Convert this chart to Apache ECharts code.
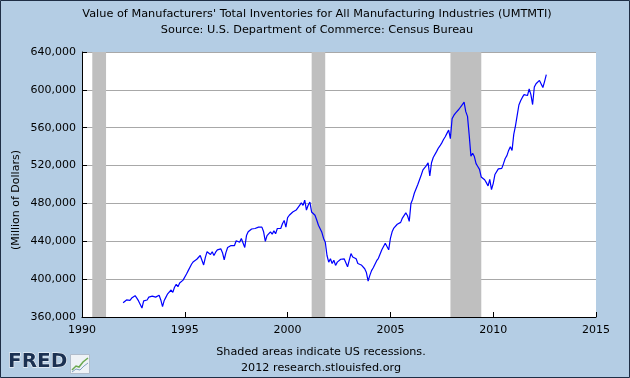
<!DOCTYPE html>
<html>
<head>
<meta charset="utf-8">
<script src="https://cdn.jsdelivr.net/npm/echarts@6/dist/echarts.min.js"></script>
<style>
html,body{margin:0;padding:0;background:#b4cde4;}
#chart{width:630px;height:378px;}
</style>
</head>
<body>
<div id="chart"></div>
<script>
// Monthly observations, first one is January 1992 (Million of Dollars)
const firstYear = 1992;
const inventories = [
  375000,376500,378000,379500,377500,380000,378000,382500,380000,377000,375000,369500,
  377000,376000,378000,381000,380000,382000,383000,381000,382500,383000,378000,371000,
  377500,381000,384500,386000,388500,386000,391500,394500,392000,396000,394000,399000,
  398000,405500,409000,408000,416000,418500,417000,421000,423000,425000,423500,415000,
  423000,429000,428000,426000,429000,425000,428500,431000,429000,432000,428000,420500,
  428000,433500,432000,435500,437000,435500,440500,441500,439000,443000,441500,433500,
  446000,450000,449000,453000,451000,453500,452000,455000,454000,455000,450000,440000,
  446000,448000,450000,447500,451000,448000,453500,455000,453500,458500,462000,455000,
  465000,467500,466000,471000,472000,473000,471000,478000,480500,478000,483500,473000,
  478000,481500,471000,469000,467500,462500,457000,455000,449500,443000,439000,425000,
  418000,421500,416500,420000,414500,418000,420000,421000,420000,421500,423500,413000,
  420000,427000,423500,425000,421500,416500,414500,415000,413000,411000,407000,398000,
  404000,409000,412000,414000,419500,422000,424000,431000,433000,438000,439000,431000,
  443000,450000,454000,456000,458000,456500,460000,464500,464500,470000,467000,461000,
  480000,484500,491000,495500,500000,502000,510000,515500,517500,520000,523000,509000,
  523000,528500,530000,535000,538500,541000,544000,547500,550500,554000,557500,548500,
  569500,573000,575500,576500,579500,580000,584500,587000,577000,572000,552000,530000,
  533000,529500,522000,519000,516000,508000,506500,505000,502000,498500,505500,494500,
  501000,510500,512500,516500,518000,517000,522000,527500,530500,536000,540000,536000,
  553000,562000,573000,584000,588500,592000,595000,596000,594000,601000,595000,584500,
  603000,606500,607000,610000,611000,602500,609000,616000
];
// Recession periods (decimal years: start, end)
const recessions = [[1990.5, 1991.17], [2001.17, 2001.83], [2007.92, 2009.42]];
const xTicks = [1990, 1995, 2000, 2005, 2010, 2015];
const yTicks = [360000, 400000, 440000, 480000, 520000, 560000, 600000, 640000];
const titleLines = [
  "Value of Manufacturers' Total Inventories for All Manufacturing Industries (UMTMTI)",
  "Source: U.S. Department of Commerce: Census Bureau"
];
const yName = "(Million of Dollars)";
const footLines = ["Shaded areas indicate US recessions.", "2012 research.stlouisfed.org"];

const seriesData = inventories.map((v, i) => [firstYear + i / 12, v]);
const FONT = 'DejaVu Sans';

const chart = echarts.init(document.getElementById('chart'), null, {renderer: 'canvas'});
chart.setOption({
  animation: false,
  backgroundColor: '#b4cde4',
  grid: {left: 82, top: 52, width: 514, height: 265, show: true, backgroundColor: '#ffffff', borderWidth: 0},
  xAxis: {
    type: 'value', min: xTicks[0], max: xTicks[xTicks.length - 1], interval: 5,
    axisLine: {show: true, lineStyle: {color: '#000', width: 1}},
    axisTick: {show: true, inside: true, length: 5, lineStyle: {color: '#000'}},
    axisLabel: {color: '#000', fontFamily: FONT, fontSize: 11, margin: 8, formatter: v => String(v)},
    splitLine: {show: false}
  },
  yAxis: {
    type: 'value', min: yTicks[0], max: yTicks[yTicks.length - 1], interval: 40000,
    axisLine: {show: true, lineStyle: {color: '#000', width: 1}},
    axisTick: {show: true, inside: true, length: 5, lineStyle: {color: '#000'}},
    axisLabel: {color: '#000', fontFamily: FONT, fontSize: 11, margin: 6,
      formatter: v => v.toLocaleString('en-US')},
    splitLine: {show: true, lineStyle: {color: '#a8a8a8', width: 1}}
  },
  series: [{
    type: 'line',
    data: seriesData,
    showSymbol: false,
    symbol: 'none',
    lineStyle: {color: '#0000ff', width: 1.2},
    z: 5,
    markArea: {
      silent: true,
      itemStyle: {color: '#bfbfbf'},
      data: recessions.map(r => [{xAxis: r[0]}, {xAxis: r[1]}])
    }
  }],
  graphic: [
    {type: 'text', x: 317, y: 14, style: {text: titleLines[0], fontFamily: FONT, fontSize: 11.3, fill: '#000', align: 'center', verticalAlign: 'middle'}},
    {type: 'text', x: 317, y: 30, style: {text: titleLines[1], fontFamily: FONT, fontSize: 11.3, fill: '#000', align: 'center', verticalAlign: 'middle'}},
    {type: 'text', x: 16, y: 200, rotation: Math.PI / 2, style: {text: yName, fontFamily: FONT, fontSize: 11, fill: '#000', align: 'center', verticalAlign: 'middle'}},
    {type: 'text', x: 321, y: 352, style: {text: footLines[0], fontFamily: FONT, fontSize: 11.2, fill: '#000', align: 'center', verticalAlign: 'middle'}},
    {type: 'text', x: 321, y: 368, style: {text: footLines[1], fontFamily: FONT, fontSize: 11.2, fill: '#000', align: 'center', verticalAlign: 'middle'}},
    {type: 'text', x: 8, y: 362, style: {text: 'FRED', fontFamily: FONT, fontSize: 20, fontWeight: 'bold', fill: '#1b3152', stroke: '#ffffff', lineWidth: 1, align: 'left', verticalAlign: 'middle'}},
    {type: 'rect', shape: {x: 70.5, y: 354.5, width: 19, height: 19}, style: {fill: '#eef2f6', stroke: '#b0bccb', lineWidth: 1}},
    {type: 'polyline', shape: {points: [[72, 370], [76, 366], [79, 367], [83, 362], [88, 358]]}, style: {stroke: '#6aa84f', fill: null, lineWidth: 1.5}},
    {type: 'polyline', shape: {points: [[72, 372], [76, 369], [80, 370], [84, 366], [88, 363]]}, style: {stroke: '#7f9fbf', fill: null, lineWidth: 1}},
    {type: 'rect', shape: {x: 0.5, y: 0.5, width: 629, height: 377}, style: {fill: null, stroke: '#1f2e45', lineWidth: 1}, z: 100}
  ]
});
</script>
</body>
</html>
